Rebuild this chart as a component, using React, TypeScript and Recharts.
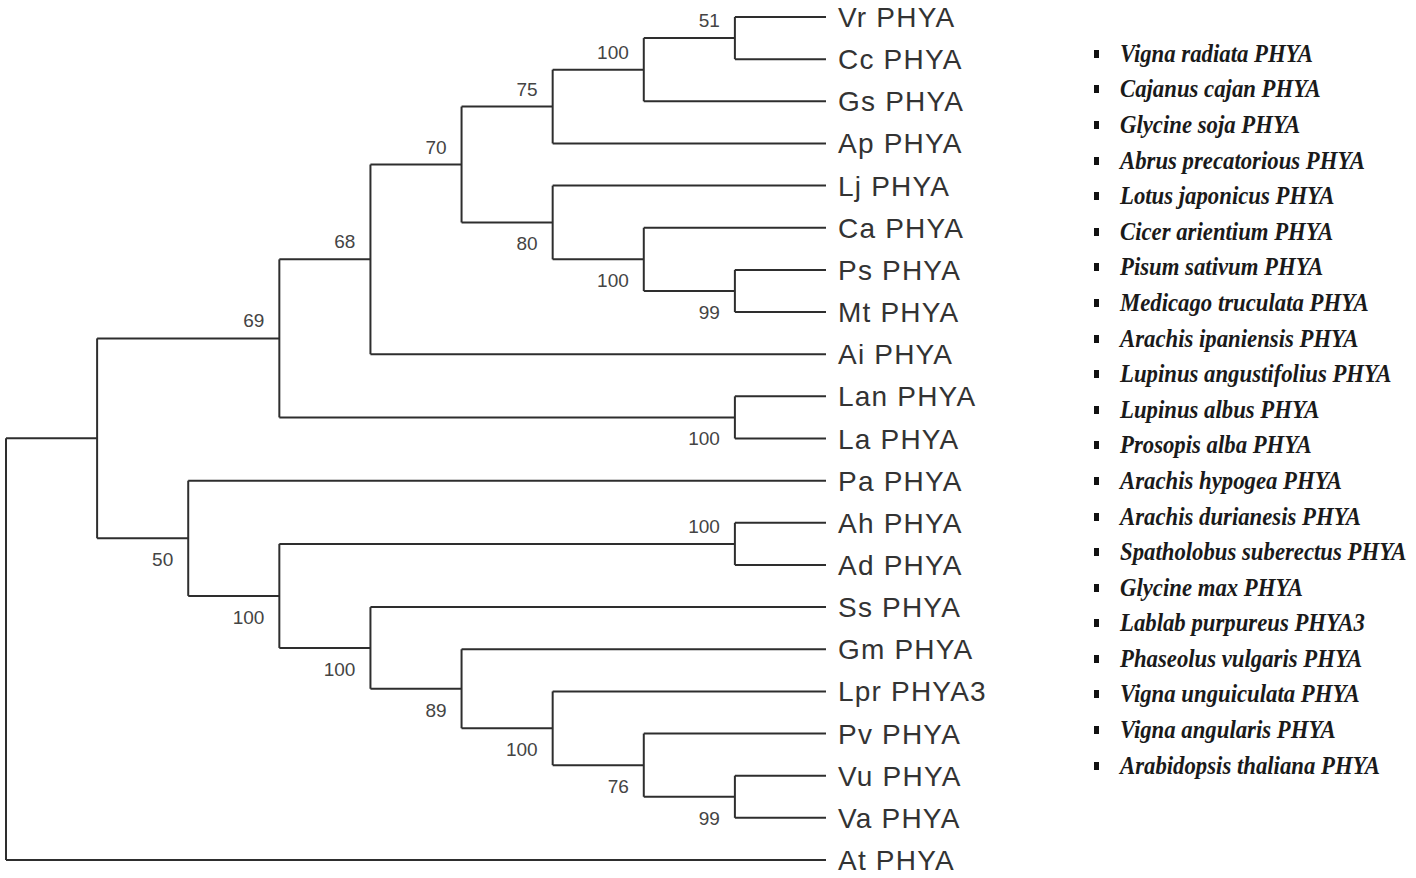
import React from 'react';
import { ComposedChart, XAxis, YAxis, Scatter, ReferenceLine } from 'recharts';

// leaf order, top to bottom
const leafCodes = [
  'Vr PHYA', 'Cc PHYA', 'Gs PHYA', 'Ap PHYA', 'Lj PHYA', 'Ca PHYA', 'Ps PHYA',
  'Mt PHYA', 'Ai PHYA', 'Lan PHYA', 'La PHYA', 'Pa PHYA', 'Ah PHYA', 'Ad PHYA',
  'Ss PHYA', 'Gm PHYA', 'Lpr PHYA3', 'Pv PHYA', 'Vu PHYA', 'Va PHYA', 'At PHYA',
];

const speciesNames = [
  'Vigna radiata PHYA', 'Cajanus cajan PHYA', 'Glycine soja PHYA',
  'Abrus precatorious PHYA', 'Lotus japonicus PHYA', 'Cicer arientium PHYA',
  'Pisum sativum PHYA', 'Medicago truculata PHYA', 'Arachis ipaniensis PHYA',
  'Lupinus angustifolius PHYA', 'Lupinus albus PHYA', 'Prosopis alba PHYA',
  'Arachis hypogea PHYA', 'Arachis durianesis PHYA', 'Spatholobus suberectus PHYA',
  'Glycine max PHYA', 'Lablab purpureus PHYA3', 'Phaseolus vulgaris PHYA',
  'Vigna unguiculata PHYA', 'Vigna angularis PHYA', 'Arabidopsis thaliana PHYA',
];

const leafDepth = 9;

// internal nodes: depth = column of the node, support = bootstrap value
const nodeIds = ['n1', 'n2', 'n3', 'n4', 'n5', 'n6', 'n7', 'n8', 'n9', 'n10', 'n11', 'n12', 'n13', 'n14', 'n15', 'n16', 'n17', 'n18', 'n19', 'root'];
const nodeDepths = [8, 7, 6, 8, 7, 6, 5, 4, 8, 3, 8, 8, 7, 6, 5, 4, 3, 2, 1, 0];
const nodeChildren = [
  ['Vr PHYA', 'Cc PHYA'],
  ['n1', 'Gs PHYA'],
  ['n2', 'Ap PHYA'],
  ['Ps PHYA', 'Mt PHYA'],
  ['Ca PHYA', 'n4'],
  ['Lj PHYA', 'n5'],
  ['n3', 'n6'],
  ['n7', 'Ai PHYA'],
  ['Lan PHYA', 'La PHYA'],
  ['n8', 'n9'],
  ['Ah PHYA', 'Ad PHYA'],
  ['Vu PHYA', 'Va PHYA'],
  ['Pv PHYA', 'n12'],
  ['Lpr PHYA3', 'n13'],
  ['Gm PHYA', 'n14'],
  ['Ss PHYA', 'n15'],
  ['n11', 'n16'],
  ['Pa PHYA', 'n17'],
  ['n10', 'n18'],
  ['n19', 'At PHYA'],
];
const nodeSupport = [51, 100, 75, 99, 100, 80, 70, 68, 100, 69, 100, 99, 76, 100, 89, 100, 100, 50, null, null];
const supportSide = ['above', 'above', 'above', 'below', 'below', 'below', 'above', 'above', 'below', 'above', 'above', 'below', 'below', 'below', 'below', 'below', 'below', 'below', 'above', 'above'];

// position helpers built from the tree data
const yOf: Record<string, number> = {};
leafCodes.forEach((c, i) => (yOf[c] = i));
const xOf: Record<string, number> = {};
leafCodes.forEach((c) => (xOf[c] = leafDepth));
nodeIds.forEach((id, i) => {
  const kids = nodeChildren[i];
  yOf[id] = (yOf[kids[0]] + yOf[kids[kids.length - 1]]) / 2;
  xOf[id] = nodeDepths[i];
});

type Seg = [{ x: number; y: number }, { x: number; y: number }];
const segments: Seg[] = [];
nodeIds.forEach((id, i) => {
  const kids = nodeChildren[i];
  const x = xOf[id];
  segments.push([{ x, y: yOf[kids[0]] }, { x, y: yOf[kids[kids.length - 1]] }]);
  kids.forEach((k) => segments.push([{ x, y: yOf[k] }, { x: xOf[k], y: yOf[k] }]));
});

const leafPoints = leafCodes.map((c) => ({ x: leafDepth, y: yOf[c], name: c }));
const supportPoints = nodeIds
  .map((id, i) => ({ x: xOf[id], y: yOf[id], support: nodeSupport[i], side: supportSide[i] }))
  .filter((p) => p.support !== null);

const LINE = '#2e2e2e';

const LeafLabel = (props: any) => {
  const { cx, cy, payload } = props;
  return (
    <text x={cx + 12} y={cy + 10} fontSize={28} letterSpacing={1.2} fill="#333" fontFamily="'Liberation Sans', Arial, sans-serif">
      {payload.name}
    </text>
  );
};

const SupportLabel = (props: any) => {
  const { cx, cy, payload } = props;
  const y = payload.side === 'above' ? cy - 11 : cy + 28;
  return (
    <text x={cx - 15} y={y} fontSize={19} fill="#444" textAnchor="end" fontFamily="'Liberation Sans', Arial, sans-serif">
      {payload.support}
    </text>
  );
};

export default function App() {
  return (
    <div style={{ position: 'relative', width: 1416, height: 878, background: '#fff' }}>
      <style>{'body{margin:0}'}</style>
      <ComposedChart width={1416} height={878} margin={{ top: 17, right: 590, bottom: 18, left: 6 }}>
        <XAxis type="number" dataKey="x" domain={[0, leafDepth]} hide />
        <YAxis type="number" dataKey="y" domain={[0, leafCodes.length - 1]} reversed hide />
        {segments.map((s, i) => (
          <ReferenceLine key={i} segment={s} stroke={LINE} strokeWidth={2} ifOverflow="visible" />
        ))}
        <Scatter data={leafPoints} shape={<LeafLabel />} isAnimationActive={false} />
        <Scatter data={supportPoints} shape={<SupportLabel />} isAnimationActive={false} />
      </ComposedChart>
      <div style={{ position: 'absolute', left: 1094, top: 36 }}>
        {speciesNames.map((n) => (
          <div key={n} style={{ height: 35.6, display: 'flex', alignItems: 'center', whiteSpace: 'nowrap' }}>
            <span style={{ width: 5, height: 8, background: '#111', marginRight: 21, flex: 'none' }} />
            <span
              style={{
                fontFamily: "'Liberation Serif', 'Times New Roman', serif",
                fontStyle: 'italic',
                fontWeight: 'bold',
                fontSize: 26,
                color: '#1a1a1a',
                display: 'inline-block',
                transform: 'scaleX(0.875)',
                transformOrigin: 'left center',
              }}
            >
              {n}
            </span>
          </div>
        ))}
      </div>
    </div>
  );
}
